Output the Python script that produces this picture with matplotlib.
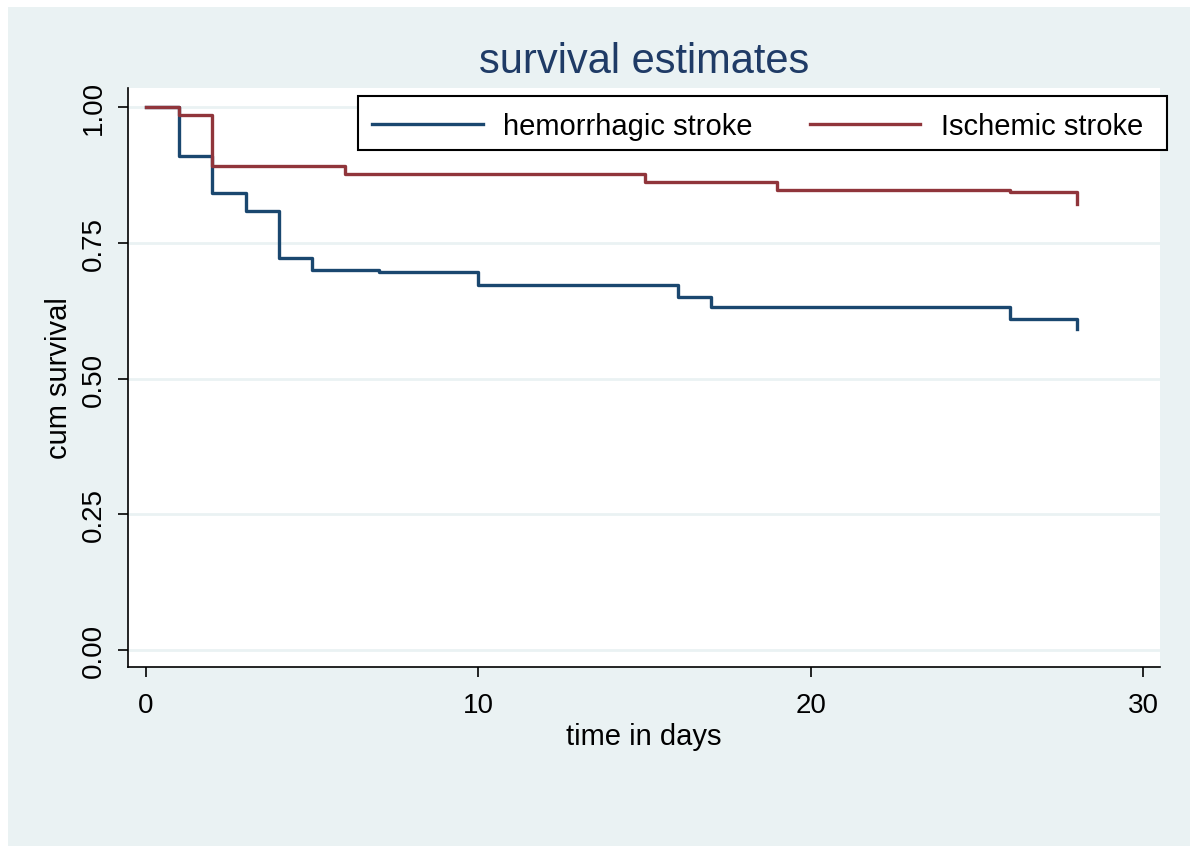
import matplotlib
matplotlib.use('Agg')
import matplotlib.pyplot as plt
from matplotlib.patches import Rectangle

plt.rcParams['font.family'] = ['Liberation Sans', 'DejaVu Sans']

# Kaplan-Meier estimates
hem_days = [0, 1, 2, 3, 4, 5, 7, 10, 16, 17, 26, 28]
hem_surv = [1.0, 0.909, 0.841, 0.808, 0.722, 0.700, 0.696, 0.673, 0.650, 0.632, 0.609, 0.592]

isc_days = [0, 1, 2, 6, 15, 19, 26, 28]
isc_surv = [1.0, 0.985, 0.892, 0.877, 0.862, 0.847, 0.844, 0.821]

x_ticks = [0, 10, 20, 30]
y_ticks = [0.0, 0.25, 0.5, 0.75, 1.0]
y_ticklabels = ['0.00', '0.25', '0.50', '0.75', '1.00']

bg = '#eaf2f3'
navy = '#1a476f'
maroon = '#90353b'

W, H = 1195, 854
fig = plt.figure(figsize=(W / 100, H / 100), dpi=100)
fig.patch.set_facecolor('white')
# light graph region inside a thin white border
fig.patches.append(Rectangle((8 / W, 1 - 847 / H), 1182 / W, 839 / H,
                             transform=fig.transFigure, facecolor=bg,
                             edgecolor='none', zorder=-10))

ax = fig.add_axes([128 / W, 1 - 668 / H, 1032 / W, 579 / H])
ax.set_facecolor('white')

ax.plot(hem_days, hem_surv, drawstyle='steps-post', color=navy, lw=2.4,
        label='hemorrhagic stroke', zorder=3)
ax.plot(isc_days, isc_surv, drawstyle='steps-post', color=maroon, lw=2.4,
        label='Ischemic stroke', zorder=3)

ax.set_xlim(-0.542, 30.51)
ax.set_ylim(-0.0313, 1.035)
ax.set_xticks(x_ticks)
ax.set_yticks(y_ticks)
ax.set_yticklabels(y_ticklabels, rotation=90, va='center')
ax.grid(axis='y', color=bg, lw=2)
ax.set_axisbelow(True)

for s in ['top', 'right']:
    ax.spines[s].set_visible(False)
for s in ['left', 'bottom']:
    ax.spines[s].set_color('black')
    ax.spines[s].set_linewidth(1.2)

ax.tick_params(axis='both', direction='out', length=7, width=1.2,
               labelsize=20, colors='black')
ax.tick_params(axis='x', pad=11)
ax.tick_params(axis='y', pad=8)

ax.set_xlabel('time in days', fontsize=21, labelpad=3)
ax.set_ylabel('cum survival', fontsize=21, labelpad=6)

fig.text(644 / W, 1 - 62 / H, 'survival estimates', ha='center', va='center',
         fontsize=30, color='#1f3b66')

# legend frame drawn separately so it can overhang the plot region
fig.patches.append(Rectangle((358 / W, 1 - 151 / H), 809 / W, 54 / H,
                             transform=fig.transFigure, facecolor='white',
                             edgecolor='black', lw=1.5, zorder=4))
leg = fig.legend(loc='center left', bbox_to_anchor=(372 / W, 1 - 127 / H),
                 ncol=2, fontsize=21, handlelength=3.8, handletextpad=0.7,
                 columnspacing=1.95, borderpad=0, borderaxespad=0,
                 frameon=False)
leg.set_zorder(5)

fig.savefig('out.png', dpi=100)
